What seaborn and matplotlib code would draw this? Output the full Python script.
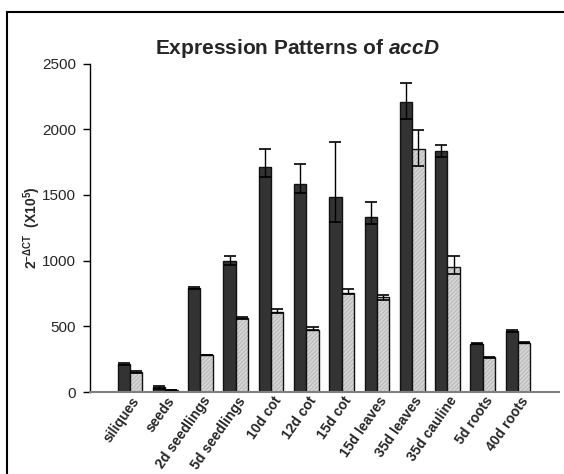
import matplotlib
matplotlib.use("Agg")
import matplotlib.pyplot as plt
from matplotlib.patches import Rectangle
from matplotlib.transforms import ScaledTranslation
import pandas as pd
import seaborn as sns

# Tissue / developmental stage categories
tissues = ["siliques", "seeds", "2d seedlings", "5d seedlings", "10d cot",
           "12d cot", "15d cot", "15d leaves", "35d leaves", "35d cauline",
           "5d roots", "40d roots"]

series_names = ["series 1", "series 2"]

# Relative expression, 2^-dCT (x10^5)
series1_vals = [215, 35, 795, 1000, 1710, 1585, 1487, 1330, 2211, 1838, 368, 465]
series2_vals = [150, 15, 282, 561, 607, 474, 756, 720, 1853, 954, 264, 375]

# Error bar extents below / above each mean
series1_err_lo = [8, 10, 8, 33, 75, 72, 190, 53, 132, 51, 5, 10]
series1_err_hi = [8, 10, 8, 36, 143, 149, 419, 115, 140, 43, 5, 10]
series2_err_lo = [8, 3, 3, 8, 8, 5, 10, 20, 130, 58, 3, 5]
series2_err_hi = [8, 3, 3, 8, 27, 19, 26, 20, 140, 79, 3, 5]

y_ticks = [0, 500, 1000, 1500, 2000, 2500]

sns.set_style("white")
plt.rcParams["font.family"] = ["Liberation Sans", "DejaVu Sans"]
plt.rcParams["mathtext.fontset"] = "custom"
plt.rcParams["mathtext.rm"] = "Liberation Sans"
plt.rcParams["mathtext.bf"] = "Liberation Sans:bold"
plt.rcParams["mathtext.it"] = "Liberation Sans:italic:bold"

df = pd.DataFrame({
    "tissue": tissues * 2,
    "series": [series_names[0]] * len(tissues) + [series_names[1]] * len(tissues),
    "value": series1_vals + series2_vals,
})

fig = plt.figure(figsize=(5.64, 4.74), dpi=100)
ax = fig.add_axes([90 / 564, 82 / 474, (559 - 90) / 564, (410.4 - 82) / 474])

dark = "#333333"
light = "#d8d8d8"
sns.barplot(data=df, x="tissue", y="value", hue="series", order=tissues,
            hue_order=series_names, palette=[dark, light], width=0.7,
            errorbar=None, legend=False, edgecolor="#111111", linewidth=1.0,
            saturation=1, ax=ax)

# Fine hatching on the light series
n = len(tissues)
patches = [p for p in ax.patches if isinstance(p, Rectangle)]
for p in patches[n:2 * n]:
    p.set_hatch("////////")
    p.set_edgecolor("#bcbcbc")
    p.set_linewidth(0)
    outline = Rectangle(p.get_xy(), p.get_width(), p.get_height(), fill=False,
                        edgecolor="#111111", linewidth=1.0, zorder=p.get_zorder() + 0.1)
    ax.add_patch(outline)

# Error bars placed at bar centres
for k, (vals, lo, hi) in enumerate([(series1_vals, series1_err_lo, series1_err_hi),
                                    (series2_vals, series2_err_lo, series2_err_hi)]):
    bars = patches[k * n:(k + 1) * n]
    xs = [b.get_x() + b.get_width() / 2 for b in bars]
    ax.errorbar(xs, vals, yerr=[lo, hi], fmt="none", ecolor="black",
                elinewidth=1.0, capsize=4.5, capthick=1.2, zorder=5)

ax.set_xlim(-1.13, 12.16)
ax.set_ylim(0, 2500)
ax.set_yticks(y_ticks)
ax.set_yticklabels([str(t) for t in y_ticks], fontsize=11)
ax.tick_params(axis="y", which="both", left=True, length=5, width=1, color="black", pad=5)
ax.tick_params(axis="x", bottom=False, length=0, pad=1.5)

ax.set_xticks(range(n))
ax.set_xticklabels(tissues, rotation=55, ha="right", rotation_mode="anchor",
                   fontsize=10, fontweight="bold")
offset = ScaledTranslation(1 / 72, 0, fig.dpi_scale_trans)
for lbl in ax.get_xticklabels():
    lbl.set_transform(lbl.get_transform() + offset)

ax.set_xlabel("")
ax.set_ylabel(r"$\mathbf{2}^{\mathbf{-\Delta CT}}$  (X10$^{\mathbf{5}}$)",
              fontsize=10, fontweight="bold", labelpad=-1)

for side in ["top", "right"]:
    ax.spines[side].set_visible(False)
ax.spines["left"].set_color("black")
ax.spines["left"].set_linewidth(1.0)
ax.spines["bottom"].set_color("#808080")
ax.spines["bottom"].set_linewidth(1.5)

fig.text(297 / 564, (474 - 54) / 474, r"Expression Patterns of $\it{accD}$",
         ha="center", va="baseline", fontsize=15, fontweight="bold")

# Chart-area border
fig.add_artist(Rectangle((7 / 564, -0.05), 1.2, (474 - 12) / 474 + 0.05,
                         transform=fig.transFigure, fill=False,
                         edgecolor="black", linewidth=1.5))

fig.savefig("out.png", dpi=100)
